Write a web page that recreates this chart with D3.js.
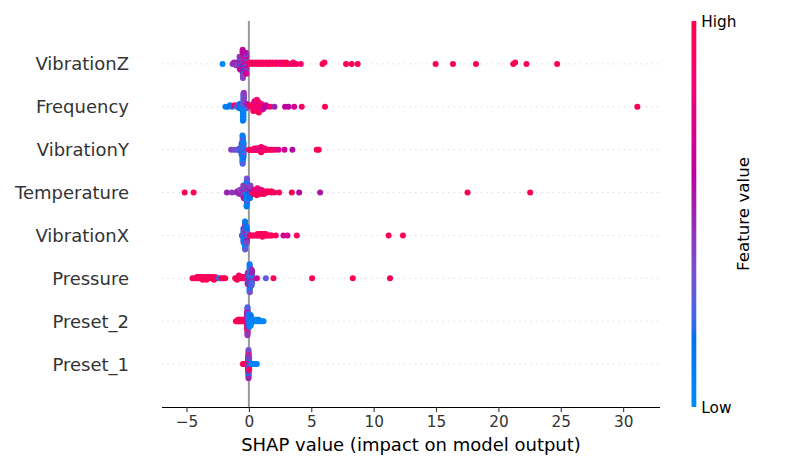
<!DOCTYPE html>
<html>
<head>
<meta charset="utf-8">
<script src="https://cdn.jsdelivr.net/npm/d3@7"></script>
<style>
    body { margin: 0; background: #fff; }
    svg { display: block; font-family: "DejaVu Sans", sans-serif; }
</style>
</head>
<body>
<div id="chart"></div>
<script>
// feature order, top to bottom
var features = ["VibrationZ", "Frequency", "VibrationY", "Temperature", "VibrationX", "Pressure", "Preset_2", "Preset_1"];

// each entry: [shap value, normalised feature value (0 low .. 1 high), number of samples]
var vibrationZ = [
    [-2.11, 0.02, 1], [-1.31, 0.45, 1], [-1.2, 0.5, 1], [-1.04, 0.42, 2], [-0.95, 0.55, 1],
    [-0.75, 0.45, 4], [-0.72, 0.2, 3], [-0.7, 0.65, 3],
    [-0.5, 0.62, 7], [-0.48, 0.42, 7], [-0.46, 0.15, 4], [-0.45, 0.75, 3],
    [-0.25, 0.55, 6], [-0.22, 0.3, 5], [-0.2, 0.7, 5],
    [0.05, 0.95, 2], [0.3, 0.9, 2], [0.6, 1, 2], [0.85, 0.9, 2], [1.1, 0.95, 2], [1.4, 0.85, 2],
    [1.65, 1, 2], [1.9, 0.9, 2], [2.2, 0.95, 2], [2.5, 0.85, 2], [2.75, 0.9, 2], [3.0, 1, 2],
    [3.3, 0.85, 1], [3.55, 0.9, 2], [3.8, 0.95, 1], [4.16, 0.9, 1],
    [5.9, 0.95, 1], [6.05, 0.95, 1], [7.79, 0.95, 1], [8.24, 1, 1], [8.72, 0.95, 1],
    [14.97, 1, 1], [16.36, 1, 1], [18.2, 1, 1], [21.19, 1, 1], [21.35, 1, 1], [22.25, 1, 1], [24.71, 1, 1]
];
var frequency = [
    [-1.88, 0.05, 1], [-1.7, 0.1, 1], [-1.5, 0.12, 1], [-1.35, 0.2, 1], [-1.15, 0.95, 1],
    [-0.96, 0.25, 1], [-0.85, 0.4, 1], [-0.75, 0.15, 2],
    [-0.48, 0.1, 6], [-0.45, 0.3, 5], [-0.43, 0.02, 5], [-0.4, 0.45, 5],
    [-0.2, 0.25, 2], [-0.15, 0.55, 2],
    [0.1, 0.8, 1], [0.15, 0.95, 1],
    [0.35, 0.95, 3], [0.45, 0.7, 3], [0.5, 0.85, 2],
    [0.64, 0.9, 4], [0.7, 0.72, 3], [0.8, 1, 3],
    [1.0, 0.85, 2], [1.1, 0.7, 2], [1.17, 0.95, 1], [1.36, 0.6, 2], [1.7, 0.85, 1],
    [2.05, 0.5, 1], [2.9, 0.65, 1], [3.17, 0.6, 1], [3.63, 0.7, 1], [4.24, 0.92, 1], [6.1, 0.95, 1],
    [31.14, 1, 1]
];
var vibrationY = [
    [-1.42, 0.45, 1], [-1.2, 0.35, 1], [-1.0, 0.3, 1], [-0.85, 0.25, 1], [-0.75, 0.4, 2],
    [-0.65, 0.3, 3],
    [-0.58, 0.2, 4], [-0.57, 0.5, 3], [-0.58, 0.08, 3],
    [-0.51, 0.1, 6], [-0.5, 0.25, 6], [-0.5, 0.02, 5], [-0.49, 0.45, 4], [-0.5, 0.62, 2],
    [-0.44, 0.15, 5], [-0.43, 0.35, 4], [-0.44, 0.05, 4],
    [0.0, 0.95, 1], [0.1, 0.9, 1], [0.2, 1, 1], [0.3, 0.85, 1], [0.38, 0.95, 1], [0.45, 0.9, 2],
    [0.55, 1, 1], [0.62, 0.8, 2], [0.7, 0.95, 2], [0.78, 0.9, 2], [0.85, 0.7, 2], [0.92, 0.95, 3],
    [0.98, 0.85, 5], [1.05, 1, 3], [1.12, 0.75, 2], [1.2, 0.95, 2], [1.28, 0.9, 2], [1.36, 1, 1],
    [1.45, 0.85, 1], [1.6, 0.95, 1], [1.75, 0.9, 1], [1.9, 1, 1], [2.1, 0.9, 1],
    [2.37, 0.72, 1], [2.85, 0.68, 1], [3.49, 0.58, 1], [5.44, 1, 1], [5.6, 1, 1]
];
var temperature = [
    [-5.15, 0.95, 1], [-4.43, 0.95, 1], [-1.76, 0.5, 1], [-1.36, 0.45, 1],
    [-1.0, 0.45, 1], [-0.9, 0.55, 1], [-0.75, 0.5, 2], [-0.7, 0.4, 2],
    [-0.45, 0.45, 4], [-0.42, 0.3, 3], [-0.4, 0.55, 3],
    [-0.18, 0.1, 7], [-0.16, 0.35, 6], [-0.14, 0.02, 5], [-0.15, 0.5, 3],
    [0.08, 0.15, 4], [0.12, 0.4, 4], [0.1, 0.6, 2],
    [0.35, 0.95, 2], [0.4, 0.8, 2], [0.62, 1, 3], [0.68, 0.85, 3], [0.92, 0.95, 2], [0.98, 0.75, 2],
    [1.2, 1, 3], [1.48, 0.9, 2], [1.8, 1, 2], [2.05, 0.95, 1], [2.43, 0.9, 1],
    [3.44, 0.95, 1], [4.03, 0.6, 1], [5.71, 0.55, 1], [17.53, 1, 1], [22.55, 1, 1]
];
var vibrationX = [
    [-0.56, 0.45, 1],
    [-0.44, 0.2, 4], [-0.42, 0.45, 4], [-0.43, 0.05, 3],
    [-0.31, 0.1, 6], [-0.3, 0.3, 6], [-0.29, 0.02, 5], [-0.3, 0.5, 4],
    [-0.18, 0.15, 5], [-0.17, 0.4, 4], [-0.16, 0.6, 3],
    [-0.05, 0.3, 2],
    [0.08, 0.95, 1], [0.2, 0.9, 1], [0.32, 1, 1], [0.45, 0.9, 1], [0.58, 0.95, 1], [0.7, 0.85, 2],
    [0.83, 1, 2], [0.96, 0.9, 2], [1.09, 0.95, 3], [1.22, 0.9, 2], [1.35, 1, 2], [1.48, 0.85, 1],
    [1.61, 0.95, 1], [1.74, 0.9, 1], [1.84, 1, 1],
    [2.16, 0.95, 1], [2.77, 0.7, 1], [3.09, 0.68, 1], [3.84, 0.95, 1], [11.2, 1, 1], [12.35, 1, 1]
];
var pressure = [
    [-4.52, 0.95, 1], [-4.3, 1, 1], [-4.16, 0.95, 2], [-4.0, 1, 2], [-3.85, 0.9, 2], [-3.7, 1, 3],
    [-3.55, 0.95, 2], [-3.4, 1, 3], [-3.25, 0.9, 2], [-3.1, 1, 2], [-2.95, 0.95, 2], [-2.8, 1, 2],
    [-2.7, 0.9, 1], [-2.55, 0.95, 1], [-2.38, 0.03, 1], [-2.2, 1, 1], [-2.05, 0.95, 1], [-1.9, 1, 1],
    [-1.1, 0.95, 1], [-0.95, 1, 2], [-0.8, 0.9, 2], [-0.65, 1, 2], [-0.5, 0.95, 2], [-0.35, 0.85, 2], [-0.2, 1, 2],
    [-0.09, 0.3, 3], [-0.08, 0.9, 3], [-0.1, 0.5, 3],
    [0.06, 0.1, 6], [0.08, 0.35, 6], [0.07, 0.65, 4], [0.05, 0.02, 5],
    [0.22, 0.25, 5], [0.24, 0.5, 5], [0.23, 0.08, 2],
    [0.64, 0.68, 1], [1.36, 0.3, 1], [1.97, 0.95, 1], [5.07, 1, 1], [8.33, 1, 1], [11.31, 1, 1]
];
var preset2 = [
    [-1.04, 1, 1], [-0.95, 0.95, 1], [-0.87, 1, 2], [-0.8, 0.95, 2], [-0.72, 1, 2], [-0.63, 0.9, 2],
    [-0.54, 1, 2], [-0.45, 0.95, 2], [-0.37, 1, 2], [-0.29, 0.9, 2], [-0.22, 1, 2],
    [-0.16, 0.9, 6], [-0.16, 0.65, 6],
    [-0.11, 0.95, 5], [-0.11, 0.7, 5], [-0.11, 0.45, 6], [-0.11, 0.25, 5],
    [-0.05, 0.5, 4], [-0.05, 0.2, 4],
    [0.05, 0.05, 6], [0.05, 0.3, 4],
    [0.15, 0.02, 4], [0.15, 0.12, 4],
    [0.28, 0.05, 2], [0.4, 0.0, 2], [0.52, 0.08, 2], [0.65, 0.02, 2], [0.78, 0.05, 2],
    [0.9, 0.0, 1], [1.02, 0.05, 1], [1.17, 0.02, 1]
];
var preset1 = [
    [-0.48, 0.95, 1], [-0.38, 1, 1], [-0.3, 0.9, 1],
    [-0.07, 0.55, 4], [-0.07, 0.9, 4], [-0.07, 0.2, 3],
    [-0.03, 0.5, 6], [-0.03, 0.95, 5], [-0.03, 0.1, 5], [-0.03, 0.35, 5],
    [0.02, 0.45, 4], [0.02, 0.05, 3], [0.02, 0.95, 3],
    [0.2, 0.05, 1], [0.3, 0.02, 1], [0.42, 0.1, 1], [0.52, 0.05, 1], [0.64, 0.03, 1]
];
var featureData = [vibrationZ, frequency, vibrationY, temperature, vibrationX, pressure, preset2, preset1];

var xTicks = [-5, 0, 5, 10, 15, 20, 25, 30];
var xLabel = "SHAP value (impact on model output)";
var colorbarLabels = {"low": "Low", "high": "High", "title": "Feature value"};

var width = 800, height = 470;
var margin = {"left": 162, "right": 140, "top": 21, "bottom": 63};
var plotW = width - margin.left - margin.right;
var plotH = height - margin.top - margin.bottom;

// shap red_blue colormap (Lch interpolation, D65)
function lch2rgb(l, c, h){
    var a = c*Math.cos(h), b = c*Math.sin(h);
    var fy = (l+16)/116, fx = fy + a/500, fz = fy - b/200;
    var finv = function(t){ return t > 6/29 ? t*t*t : 3*(6/29)*(6/29)*(t-4/29); };
    var X = 0.95047*finv(fx), Y = finv(fy), Z = 1.08883*finv(fz);
    var r = 3.2406*X - 1.5372*Y - 0.4986*Z;
    var g = -0.9689*X + 1.8758*Y + 0.0415*Z;
    var bl = 0.0557*X - 0.2040*Y + 1.0570*Z;
    var gam = function(v){ v = v <= 0.0031308 ? 12.92*v : 1.055*Math.pow(v, 1/2.4) - 0.055; return Math.round(255*Math.max(0, Math.min(1, v))); };
    return d3.rgb(gam(r), gam(g), gam(bl)).formatHex();
}
function redBlue(t){
    t = Math.max(0, Math.min(1, t));
    var l = t < 0.5 ? 54 + (40-54)*(t/0.5) : 40 + (54-40)*((t-0.5)/0.5);
    var c = 70 + (90-70)*t;
    var h = 4.6588 + ((0.35470565 + 2*Math.PI) - 4.6588)*t;
    return lch2rgb(l, c, h);
}

// beeswarm layout as in shap: quantise into 100 bins and pile alternately up/down
function expand(groups){
    var pts = [];
    groups.forEach(function(g, gi){
        for (var k = 0; k < g[2]; k++) pts.push({"shap": g[0], "feat": g[1], "g": gi, "k": k});
    });
    return pts;
}
function swarm(pts){
    var lo = d3.min(pts, function(p){ return p.shap; });
    var hi = d3.max(pts, function(p){ return p.shap; });
    pts.forEach(function(p){ p.bin = Math.round(100*(p.shap-lo)/(hi-lo+1e-8)); });
    var order = pts.slice().sort(function(a, b){ return a.bin-b.bin || a.k-b.k || a.g-b.g; });
    var layer = 0, last = -1;
    order.forEach(function(p){
        if (p.bin !== last) layer = 0;
        p.ys = Math.ceil(layer/2)*((layer%2)*2-1);
        layer++;
        last = p.bin;
    });
    var m = d3.max(pts, function(p){ return p.ys+1; });
    pts.forEach(function(p){ p.ys *= 0.9*(0.4/m); });
    return order;
}

var rows = featureData.map(function(groups, i){
    return {"name": features[i], "pos": features.length-1-i, "points": swarm(expand(groups))};
});

var allShap = [];
rows.forEach(function(r){ r.points.forEach(function(p){ allShap.push(p.shap); }); });
var lo = d3.min(allShap), hi = d3.max(allShap), pad = (hi-lo)*0.05;

var x = d3.scaleLinear().domain([lo-pad, hi+pad]).range([margin.left, margin.left+plotW]);
var y = d3.scaleLinear().domain([-1, features.length]).range([margin.top+plotH, margin.top]);

var svg = d3.select("#chart").append("svg").attr("width", width).attr("height", height);

// dotted row guides
svg.append("g").selectAll("line").data(rows).enter().append("line")
    .attr("x1", margin.left).attr("x2", margin.left+plotW)
    .attr("y1", function(d){ return y(d.pos); }).attr("y2", function(d){ return y(d.pos); })
    .attr("stroke", "#cccccc").attr("stroke-width", 0.8).attr("stroke-dasharray", "1.2,4.3");

// zero line
svg.append("line")
    .attr("x1", x(0)).attr("x2", x(0)).attr("y1", margin.top).attr("y2", margin.top+plotH)
    .attr("stroke", "#999999").attr("stroke-width", 2);

// points
var dots = svg.append("g");
rows.forEach(function(r){
    dots.selectAll(null).data(r.points).enter().append("circle")
        .attr("cx", function(p){ return x(p.shap); })
        .attr("cy", function(p){ return y(r.pos + p.ys); })
        .attr("r", 3.0)
        .attr("fill", function(p){ return redBlue(p.feat); });
});

// feature labels
svg.append("g").selectAll("text").data(rows).enter().append("text")
    .attr("x", margin.left-33).attr("y", function(d){ return y(d.pos); }).attr("dy", "0.36em")
    .attr("text-anchor", "end").attr("font-size", "18px").attr("fill", "#333333")
    .text(function(d){ return d.name; });

// x axis
var xAxis = d3.axisBottom(x).tickValues(xTicks).tickSize(4.9).tickPadding(4.5);
var gx = svg.append("g").attr("transform", "translate(0," + (margin.top+plotH) + ")").call(xAxis);
gx.select(".domain").attr("stroke", "#000").attr("stroke-width", 1.1)
    .attr("d", "M" + margin.left + ",0.5H" + (margin.left+plotW));
gx.selectAll(".tick line").attr("stroke", "#333333").attr("stroke-width", 1.1);
gx.selectAll(".tick text").attr("fill", "#333333").attr("font-size", "15.3px")
    .attr("font-family", "DejaVu Sans, sans-serif");
svg.append("text").attr("x", margin.left+plotW/2).attr("y", 451)
    .attr("text-anchor", "middle").attr("font-size", "18px").attr("fill", "#000")
    .text(xLabel);

// colour bar
var cbX = 691.5, cbW = 4.8;
var grad = svg.append("defs").append("linearGradient").attr("id", "cbGrad")
    .attr("x1", 0).attr("y1", 1).attr("x2", 0).attr("y2", 0);
d3.range(0, 1.0001, 0.02).forEach(function(t){
    grad.append("stop").attr("offset", t).attr("stop-color", redBlue(t));
});
svg.append("rect").attr("x", cbX).attr("y", margin.top).attr("width", cbW).attr("height", plotH)
    .attr("fill", "url(#cbGrad)");
svg.append("text").attr("x", cbX+cbW+5).attr("y", margin.top).attr("dy", "0.36em")
    .attr("font-size", "15.3px").text(colorbarLabels.high);
svg.append("text").attr("x", cbX+cbW+5).attr("y", margin.top+plotH).attr("dy", "0.36em")
    .attr("font-size", "15.3px").text(colorbarLabels.low);
svg.append("text").attr("transform", "translate(743," + (margin.top+plotH/2) + ") rotate(-90)")
    .attr("dy", "0.36em").attr("text-anchor", "middle").attr("font-size", "16.7px")
    .text(colorbarLabels.title);
</script>
</body>
</html>
